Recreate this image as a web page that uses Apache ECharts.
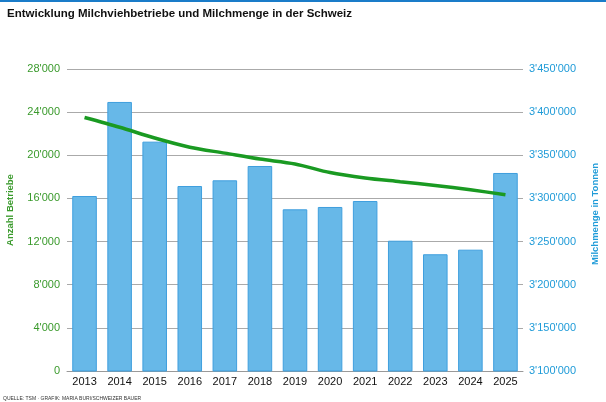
<!DOCTYPE html>
<html>
<head>
<meta charset="utf-8">
<script src="https://cdn.jsdelivr.net/npm/echarts@6/dist/echarts.min.js"></script>
<style>
	html, body { margin: 0; padding: 0; background: #fff; }
	#topline { position: absolute; left: 0; top: 0; width: 606px; height: 2px; background: #1a7cc9; }
	#chart { width: 606px; height: 402px; }
</style>
</head>
<body>
<div id="topline"></div>
<div id="chart"></div>
<script>
var years = ["2013", "2014", "2015", "2016", "2017", "2018", "2019", "2020", "2021", "2022", "2023", "2024", "2025"];
// Milchmenge in Tonnen (rechte Achse)
var milchmenge = [3302800, 3411800, 3365800, 3314400, 3321000, 3337600, 3287400, 3290100, 3297000, 3251000, 3235300, 3240600, 3329500];
// Anzahl Betriebe (linke Achse)
var betriebe = [23500, 22600, 21600, 20750, 20200, 19650, 19200, 18400, 17900, 17550, 17200, 16800, 16350];

function fmt(v) {
	return String(v).replace(/\B(?=(\d{3})+(?!\d))/g, "'");
}

var green = '#3a9a2c';
var blue = '#1f9bd8';

var option = {
	animation: false,
	textStyle: { fontFamily: 'Liberation Sans' },
	title: [
		{
			text: 'Entwicklung Milchviehbetriebe und Milchmenge in der Schweiz',
			left: 7, top: 8, padding: 0,
			textStyle: { fontSize: 11.5, fontWeight: 'bold', color: '#111', fontFamily: 'Liberation Sans' }
		},
		{
			text: 'QUELLE: TSM · GRAFIK: MARIA BURI/SCHWEIZER BAUER',
			left: 3, top: 396, padding: 0,
			textStyle: { fontSize: 5, fontWeight: 'normal', color: '#333' }
		}
	],
	graphic: [
		{
			type: 'text', x: 10, y: 210, rotation: Math.PI / 2,
			style: { text: 'Anzahl Betriebe', fill: green, font: 'bold 9.5px Liberation Sans', align: 'center', verticalAlign: 'middle' }
		},
		{
			type: 'text', x: 595, y: 214, rotation: Math.PI / 2,
			style: { text: 'Milchmenge in Tonnen', fill: blue, font: 'bold 9.5px Liberation Sans', align: 'center', verticalAlign: 'middle' }
		}
	],
	grid: { left: 67, right: 83, top: 69, bottom: 31 },
	xAxis: {
		type: 'category',
		data: years,
		axisLine: { lineStyle: { color: '#999' } },
		axisTick: { show: false },
		axisLabel: { color: '#111', fontSize: 11, margin: 5 }
	},
	yAxis: [
		{
			type: 'value',
			min: 0, max: 28000, interval: 4000,
			axisLine: { show: false },
			axisTick: { show: false },
			axisLabel: { color: green, fontSize: 11, margin: 7, formatter: fmt },
			splitLine: { lineStyle: { color: '#aaa' } }
		},
		{
			type: 'value',
			min: 3100000, max: 3450000, interval: 50000,
			axisLine: { show: false },
			axisTick: { show: false },
			axisLabel: { color: blue, fontSize: 11, margin: 6, formatter: fmt },
			splitLine: { show: false }
		}
	],
	series: [
		{
			name: 'Milchmenge',
			type: 'bar',
			yAxisIndex: 1,
			data: milchmenge,
			barWidth: '70%',
			itemStyle: { color: '#67b8e8', borderColor: '#3f9fde', borderWidth: 1 }
		},
		{
			name: 'Betriebe',
			type: 'line',
			yAxisIndex: 0,
			data: betriebe,
			smooth: 0.3,
			showSymbol: false,
			z: 5,
			lineStyle: { color: '#1a9a22', width: 3.5 }
		}
	]
};

var myChart = echarts.init(document.getElementById('chart'));
myChart.setOption(option);
</script>
</body>
</html>
